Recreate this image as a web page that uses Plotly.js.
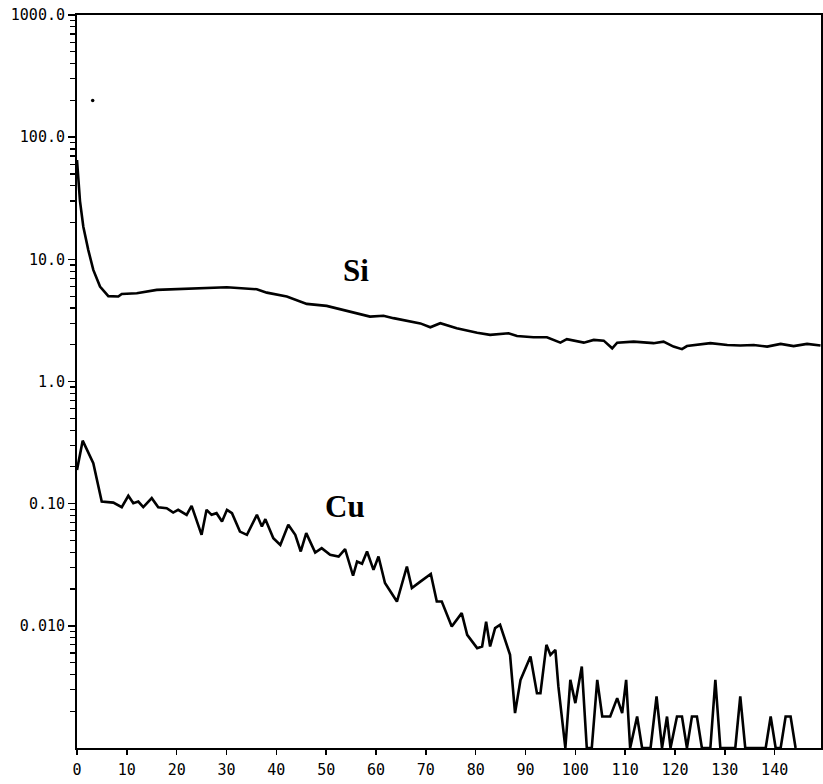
<!DOCTYPE html>
<html>
<head>
<meta charset="utf-8">
<script src="https://cdn.plot.ly/plotly-3.0.1.min.js"></script>
<style>html,body{margin:0;padding:0;background:#fff;}#chart{width:823px;height:784px;}</style>
</head>
<body>
<div id="chart"></div>
<script>
// Si series
const siX = [0, 0.6, 1.27, 2.27, 3.27, 4.62, 6.29, 8.29, 8.98, 11.99, 16.0, 23.35, 30.06, 36.08, 38.09, 42.1, 46.1, 50.1, 54.2, 58.8, 61.5, 63.5, 68.9, 70.9, 72.9, 76.2, 80.3, 82.9, 86.6, 88.3, 91.6, 94.3, 97.0, 98.3, 101.7, 103.7, 105.7, 107.4, 108.4, 111.7, 115.7, 117.7, 119.7, 121.4, 122.4, 127.1, 130.5, 133.1, 135.8, 138.5, 141.2, 143.8, 146.5, 149.2];
const siY = [65, 30, 18.5, 11.9, 8.19, 5.98, 5.0, 4.97, 5.21, 5.28, 5.62, 5.80, 5.91, 5.69, 5.34, 4.97, 4.32, 4.16, 3.80, 3.40, 3.45, 3.30, 2.99, 2.78, 3.0, 2.73, 2.51, 2.41, 2.48, 2.36, 2.30, 2.30, 2.08, 2.22, 2.08, 2.19, 2.16, 1.87, 2.08, 2.12, 2.06, 2.12, 1.93, 1.84, 1.95, 2.06, 1.99, 1.97, 1.99, 1.93, 2.03, 1.95, 2.03, 1.97];

// Cu series
const cuX = [0, 1.14, 3.27, 4.96, 7.29, 8.98, 10.3, 11.3, 12.3, 13.3, 15.0, 16.3, 18.0, 19.3, 20.3, 22.0, 23.0, 24.0, 25.0, 26.0, 27.0, 28.0, 29.1, 30.1, 31.1, 32.7, 34.1, 36.1, 37.1, 37.8, 39.4, 40.8, 42.4, 43.8, 44.9, 46.0, 47.8, 49.1, 50.8, 52.5, 53.8, 55.4, 56.2, 57.2, 58.2, 59.5, 60.5, 61.8, 64.2, 66.2, 67.2, 68.9, 71.0, 72.2, 73.2, 75.2, 77.2, 78.3, 80.3, 81.3, 82.1, 82.9, 83.9, 84.9, 86.9, 87.9, 89.0, 91.0, 92.3, 93.0, 94.2, 95.0, 96.0, 96.6, 97.1, 98.0, 99.0, 100.0, 101.3, 102.3, 103.3, 104.4, 105.4, 107.0, 108.4, 109.4, 110.2, 111.0, 112.4, 113.4, 115.1, 116.3, 117.4, 118.4, 119.1, 120.4, 121.4, 122.4, 123.4, 124.4, 125.4, 127.1, 128.1, 129.1, 132.1, 133.1, 134.1, 138.2, 139.2, 140.2, 141.2, 142.2, 143.2, 144.2];
const cuY = [0.189, 0.328, 0.2145, 0.104, 0.102, 0.0936, 0.116, 0.101, 0.104, 0.0936, 0.111, 0.0936, 0.0919, 0.0846, 0.089, 0.081, 0.096, 0.0714, 0.0556, 0.089, 0.081, 0.0836, 0.0714, 0.089, 0.0836, 0.0591, 0.0556, 0.081, 0.065, 0.0747, 0.0522, 0.046, 0.0671, 0.0556, 0.0406, 0.0574, 0.0398, 0.0432, 0.0381, 0.0369, 0.0424, 0.0257, 0.0336, 0.0322, 0.0406, 0.0287, 0.0369, 0.0224, 0.0158, 0.0306, 0.0204, 0.0230, 0.0266, 0.0158, 0.0158, 0.00987, 0.0127, 0.00844, 0.00657, 0.00677, 0.0108, 0.00677, 0.00958, 0.0102, 0.00579, 0.00193, 0.00361, 0.00561, 0.00281, 0.00281, 0.00699, 0.00579, 0.00636, 0.00319, 0.00205, 0.001, 0.00361, 0.00233, 0.00464, 0.001, 0.001, 0.00361, 0.00181, 0.00181, 0.00256, 0.00193, 0.00361, 0.001, 0.00181, 0.001, 0.001, 0.00264, 0.001, 0.00181, 0.001, 0.00181, 0.00181, 0.001, 0.00181, 0.00181, 0.001, 0.001, 0.00361, 0.001, 0.001, 0.00264, 0.001, 0.001, 0.00181, 0.001, 0.001, 0.00181, 0.00181, 0.001];

// stray dot in the original plot
const dotX = [3.15];
const dotY = [200];

// tick labels
const yTickVals = [0.01, 0.1, 1, 10, 100, 1000];
const yTickText = ['0.010', '0.10', '1.0', '10.0', '100.0', '1000.0'];
const xTickVals = [0, 10, 20, 30, 40, 50, 60, 70, 80, 90, 100, 110, 120, 130, 140];
const xTickText = ['0', '10', '20', '30', '40', '50', '60', '70', '80', '90', '100', '110', '120', '130', '140'];

// series labels
const labelText = ['Si', 'Cu'];
const labelX = [56.0, 53.7];
const labelY = [8.04, 0.094];

const minorVals = [];
for (let e = -3; e < 3; e++) {
  for (let m = 2; m <= 9; m++) minorVals.push(m * Math.pow(10, e));
}

const lineStyle = {color: '#000', width: 2.6};
const data = [
  {x: siX, y: siY, type: 'scatter', mode: 'lines', line: lineStyle, hoverinfo: 'skip'},
  {x: cuX, y: cuY, type: 'scatter', mode: 'lines', line: lineStyle, hoverinfo: 'skip'},
  {x: dotX, y: dotY, type: 'scatter', mode: 'markers', marker: {color: '#000', size: 3.5}, hoverinfo: 'skip'}
];

const tickFont = {family: 'DejaVu Sans Mono', size: 15, color: '#000'};
const layout = {
  width: 823, height: 784,
  margin: {l: 77, r: 2, t: 15, b: 36},
  paper_bgcolor: '#fff', plot_bgcolor: '#fff',
  showlegend: false,
  xaxis: {
    range: [0, 149.3], showgrid: false, zeroline: false,
    showline: true, linecolor: '#000', linewidth: 2, mirror: true,
    ticks: 'outside', ticklen: 5, tickwidth: 1.5, tickcolor: '#000',
    tickmode: 'array', tickvals: xTickVals, ticktext: xTickText,
    tickfont: tickFont, ticklabelstandoff: 2
  },
  yaxis: {
    type: 'log', range: [-3, 3], showgrid: false, zeroline: false,
    showline: true, linecolor: '#000', linewidth: 2, mirror: true,
    ticks: 'outside', ticklen: 7, tickwidth: 1.5, tickcolor: '#000',
    tickmode: 'array', tickvals: yTickVals, ticktext: yTickText,
    tickfont: tickFont,
    minor: {tickmode: 'array', tickvals: minorVals, ticks: 'outside', ticklen: 5, tickwidth: 1.2, tickcolor: '#000', showgrid: false}
  },
  annotations: labelText.map((t, i) => ({
    x: labelX[i], y: Math.log10(labelY[i]), xref: 'x', yref: 'y',
    text: '<b>' + t + '</b>', showarrow: false,
    font: {family: 'Liberation Serif', size: 31, color: '#000'}
  }))
};

Plotly.newPlot('chart', data, layout, {staticPlot: true, displayModeBar: false});
</script>
</body>
</html>
